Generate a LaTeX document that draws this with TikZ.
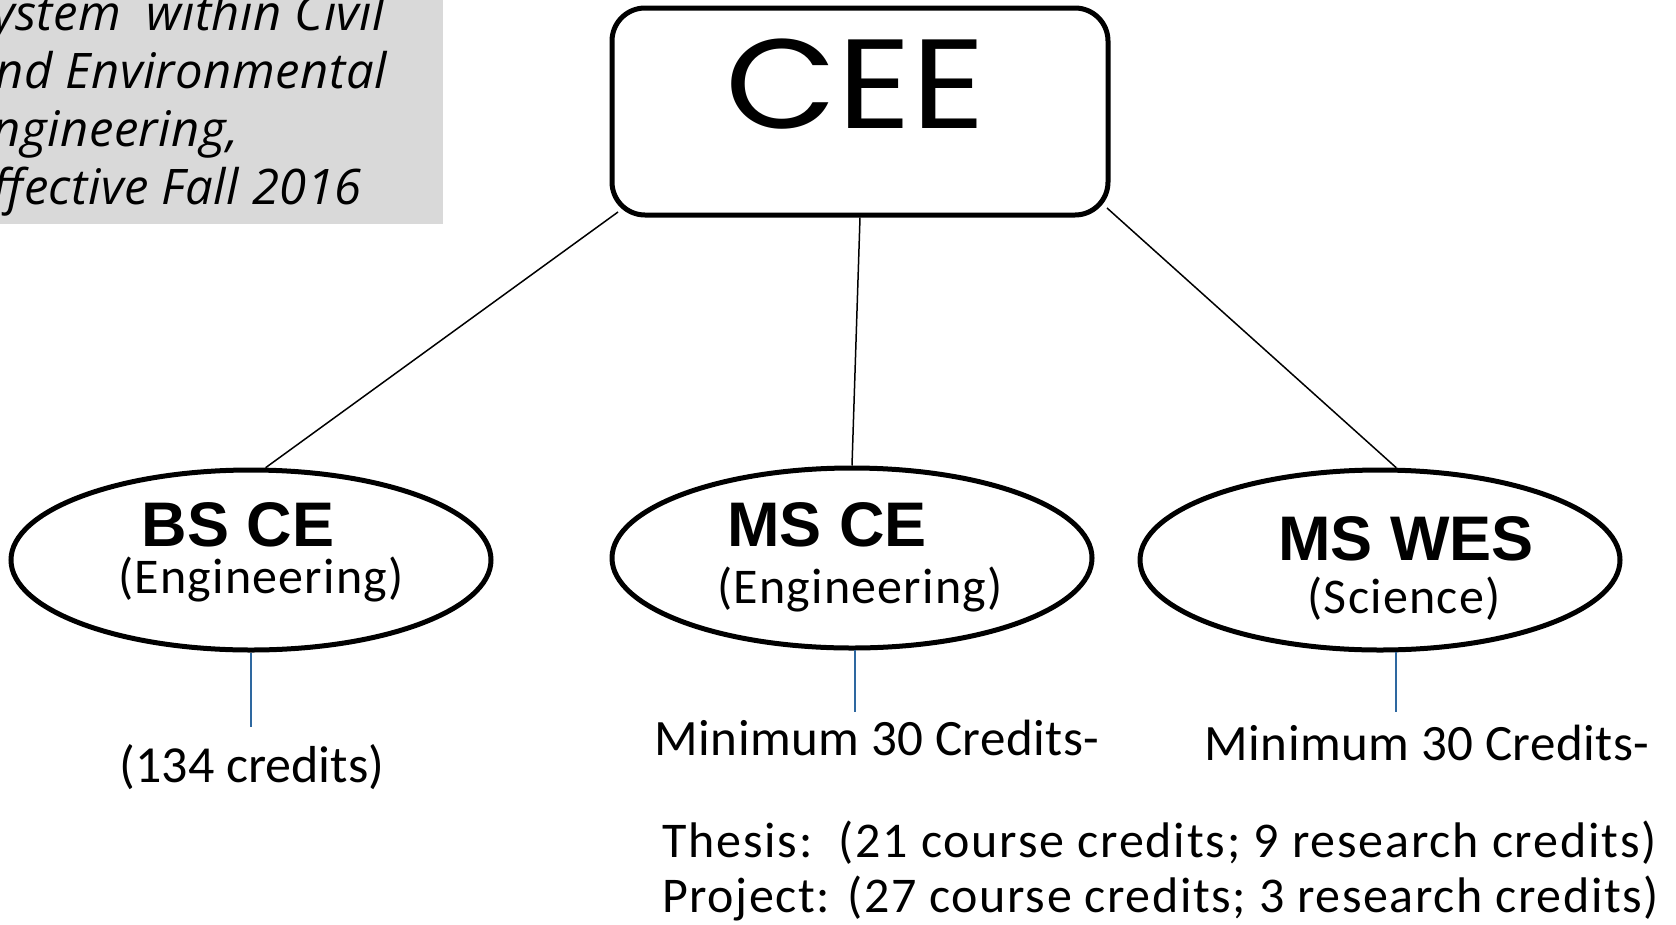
\documentclass[tikz,border=0pt]{standalone}
\usepackage{fontspec}
\setmainfont{Carlito}
\newfontfamily\boldfont{Liberation Sans}
\newfontfamily\deptfont[FakeStretch=1.14]{Poppins}
\newfontfamily\notefont{Open Sans}
\usetikzlibrary{shapes.geometric}

\definecolor{notegray}{RGB}{217,217,217}
\definecolor{stemblue}{RGB}{46,104,160}

\tikzset{
	program/.style={draw, ellipse, line width=5pt, minimum width=480pt, minimum height=180pt, inner sep=0pt},
	progtitle/.style={anchor=base, font=\boldfont\bfseries\fontsize{63}{70}\selectfont},
	progsub/.style={anchor=base, font=\addfontfeatures{LetterSpace=2.5}\fontsize{50}{60}\selectfont},
	credits/.style={anchor=base, font=\addfontfeatures{LetterSpace=0.8}\fontsize{51}{60}\selectfont},
	detail/.style={anchor=base west, inner sep=0pt, font=\addfontfeatures{LetterSpace=#1}\fontsize{50}{60}\selectfont},
	note/.style={anchor=base west, inner sep=0pt, font=\notefont\itshape\addfontfeatures{LetterSpace=1}\fontsize{49}{58}\selectfont},
	branch/.style={line width=1.5pt},
	stemline/.style={line width=2pt, stemblue}
}

\begin{document}
\begin{tikzpicture}[x=1pt, y=-1pt]

	\useasboundingbox (0,0) rectangle (1676,924);

	% note in the corner
	\begin{scope}
		\clip (0,0) rectangle (443,224);
		\fill [notegray] (0,0) rectangle (443,224);
		\foreach \txt [count=\i] in {System\hspace{0.25em} within Civil, and Environmental, {Engineering,}, Effective Fall 2016}
			\node [note] (note\i) at (-33, {30+58*(\i-1)}) {\txt};
	\end{scope}

	% department
	\node [draw, line width=5pt, rounded corners=33pt, minimum width=496pt, minimum height=207pt] (cee) at (860,111.5) {};
	\node [anchor=base, font=\deptfont\fontsize{127}{130}\selectfont] (ceetext) at (855.5,128) {CEE};

	% programs
	\node [program] (bs) at (251,560) {};
	\node [progtitle] (bstitle) at (238,546) {BS CE};
	\node [progsub] (bssub) at (261,593) {(Engineering)};

	\node [program] (msce) at (852,558) {};
	\node [progtitle] (mscetitle) at (827,546) {MS CE};
	\node [progsub] (mscesub) at (860,603) {(Engineering)};

	\node [program] (wes) at (1380,560) {};
	\node [progtitle] (westitle) at (1406,560) {MS WES};
	\node [progsub] (wessub) at (1404,613) {(Science)};

	\draw [branch] ([xshift=8.5pt, yshift=5.5pt]cee.south west) -- (bs.81);
	\draw [branch] (cee.south) -- (msce.north);
	\draw [branch] ([xshift=-3.5pt, yshift=9.5pt]cee.south east) -- (wes.80);

	% credits
	\node [credits, font=\fontsize{52}{60}\selectfont, inner ysep=17pt] (bscred) at (252,782) {(134 credits)};
	\node [credits, inner ysep=7pt] (mscecred) at (877,755) {Minimum 30 Credits-};
	\node [credits, inner ysep=12pt] (wescred) at (1427,760) {Minimum 30 Credits-};

	\draw [stemline] (bs.south) -- (bs.south |- bscred.north);
	\draw [stemline] (msce.-88) -- (msce.-88 |- mscecred.north);
	\draw [stemline] (wes.-80) -- (wes.-80 |- wescred.north);

	\node [detail=3.6] (thesis) at (662,857) {Thesis:\ \ (21 course credits; 9 research credits)};
	\node [detail=3.2] (project) at (662,912) {Project: (27 course credits; 3 research credits)};

\end{tikzpicture}
\end{document}
